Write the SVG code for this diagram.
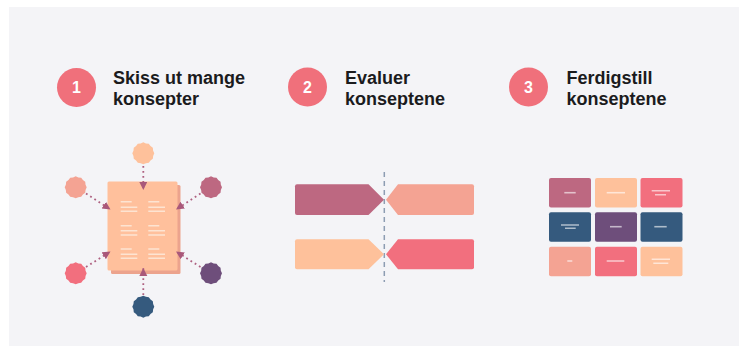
<svg xmlns="http://www.w3.org/2000/svg" xmlns:xlink="http://www.w3.org/1999/xlink" width="739" height="346" viewBox="0 0 739 346">
<style>
.h{font-family:"Liberation Sans",Arial,sans-serif;font-weight:bold;font-size:18px;fill:#1b1b1d}
.n{font-family:"Liberation Sans",Arial,sans-serif;font-weight:bold;font-size:16px;fill:#ffffff;text-anchor:middle}
.badge{fill:#f0707b}
.dot{fill:none;stroke:#ae6080;stroke-width:1.8;stroke-dasharray:1.8 3.2;marker-end:url(#arr)}
.doc{stroke:#fde4d2;stroke-width:1.6;fill:none}
.tl{stroke:#ffffff;stroke-opacity:0.6;stroke-width:1.6;fill:none}
.mauve{fill:#bd6881}.peach{fill:#fec19b}.coral{fill:#f26f7e}.salmon{fill:#f4a393}.purple{fill:#6e4e7b}.navy{fill:#355a7e}
</style>
<defs>
<polygon id="blob" points="11,0 9.85,2.64 9.53,5.5 7.21,7.21 5.5,9.53 2.64,9.85 0,11 -2.64,9.85 -5.5,9.53 -7.21,7.21 -9.53,5.5 -9.85,2.64 -11,0 -9.85,-2.64 -9.53,-5.5 -7.21,-7.21 -5.5,-9.53 -2.64,-9.85 0,-11 2.64,-9.85 5.5,-9.53 7.21,-7.21 9.53,-5.5 9.85,-2.64"/>
<marker id="arr" markerUnits="userSpaceOnUse" markerWidth="9" markerHeight="9" refX="8" refY="4" orient="auto"><path d="M0,0 L8,4 L0,8 z" fill="#a9587a"/></marker>
</defs>
<rect x="9" y="7" width="730" height="339" fill="#f4f4f7"/>

<g id="step1">
<circle class="badge" cx="76.5" cy="87.5" r="19.5"/>
<text class="n" x="76.5" y="93">1</text>
<text class="h" x="113" y="84">Skiss ut mange</text>
<text class="h" x="113" y="104.5">konsepter</text>
</g>
<g id="step2">
<circle class="badge" cx="307.5" cy="87" r="19.5"/>
<text class="n" x="307.5" y="92.5">2</text>
<text class="h" x="345" y="84">Evaluer</text>
<text class="h" x="345" y="104.5">konseptene</text>
</g>
<g id="step3">
<circle class="badge" cx="528.5" cy="87" r="19.5"/>
<text class="n" x="528.5" y="92.5">3</text>
<text class="h" x="566.5" y="84">Ferdigstill</text>
<text class="h" x="566.5" y="104.5">konseptene</text>
</g>

<g id="document">
<rect x="111" y="185" width="69.5" height="89" rx="1.5" fill="#eca38d"/>
<rect x="107.5" y="181.5" width="70" height="89" rx="1.5" fill="#ffc09c"/>
<path class="doc" d="M120.7,201.7H131.7M120.7,207.3H137.3M120.7,211.3H137.3M148.3,201.7H159.3M148.3,207.3H165M148.3,211.3H165M120.7,225.7H131.7M120.7,230.7H137.3M120.7,235H137.3M148.3,225.7H159.3M148.3,230.7H165M148.3,235H165M120.7,249H131.7M120.7,254.3H137.3M120.7,258.3H137.3M148.3,249H159.3M148.3,254.3H165M148.3,258.3H165"/>
</g>
<g id="idea-top"><use xlink:href="#blob" x="143.3" y="153.3" class="peach"/></g>
<g id="idea-upper-left"><use xlink:href="#blob" x="75.7" y="187.3" class="salmon"/></g>
<g id="idea-upper-right"><use xlink:href="#blob" x="211" y="187.3" class="mauve"/></g>
<g id="idea-lower-left"><use xlink:href="#blob" x="75.7" y="273.3" class="coral"/></g>
<g id="idea-lower-right"><use xlink:href="#blob" x="211" y="273.3" class="purple"/></g>
<g id="idea-bottom"><use xlink:href="#blob" x="143.3" y="306.7" class="navy"/></g>

<g id="connectors">
<path class="dot" d="M143.3,166 L143.3,190"/>
<path class="dot" d="M143.3,295 L143.3,268"/>
<path class="dot" d="M86,193.5 L110.5,209.5"/>
<path class="dot" d="M200.5,193.5 L176,209.5"/>
<path class="dot" d="M86,267 L110.5,251.5"/>
<path class="dot" d="M200.5,267 L176,251.5"/>
<line x1="384.3" y1="172" x2="384.3" y2="282" stroke="#8d9db2" stroke-width="1.5" stroke-dasharray="5 4"/>
</g>

<g id="compare-top-left"><path class="mauve" d="M297,184.3H368.5L384,199.7L368.5,215H297Q295,215 295,213V186.3Q295,184.3 297,184.3Z"/></g>
<g id="compare-top-right"><path class="salmon" d="M398,184.3H472Q474,184.3 474,186.3V213Q474,215 472,215H398L386,199.7Z"/></g>
<g id="compare-bottom-left"><path class="peach" d="M297,239.3H368.5L384,254.3L368.5,269.3H297Q295,269.3 295,267.3V241.3Q295,239.3 297,239.3Z"/></g>
<g id="compare-bottom-right"><path class="coral" d="M398,239.3H472Q474,239.3 474,241.3V267.3Q474,269.3 472,269.3H398L386,254.3Z"/></g>

<g id="tile-1-1"><rect class="mauve" x="549" y="178" width="42" height="29.5" rx="2"/><path class="tl" d="M564.3,192.7H575.7"/></g>
<g id="tile-1-2"><rect class="peach" x="595" y="178" width="42" height="29.5" rx="2"/><path class="tl" d="M606.7,192.7H625"/></g>
<g id="tile-1-3"><rect class="coral" x="640.5" y="178" width="42" height="29.5" rx="2"/><path class="tl" d="M651.7,190.7H670M655,194.7H666"/></g>
<g id="tile-2-1"><rect class="navy" x="549" y="212.3" width="42" height="29.5" rx="2"/><path class="tl" d="M561,225H579M565,228.3H575.7"/></g>
<g id="tile-2-2"><rect class="purple" x="595" y="212.3" width="42" height="29.5" rx="2"/><path class="tl" d="M610,226.7H621.7"/></g>
<g id="tile-2-3"><rect class="navy" x="640.5" y="212.3" width="42" height="29.5" rx="2"/><path class="tl" d="M654.3,226.7H666.7"/></g>
<g id="tile-3-1"><rect class="salmon" x="549" y="246.7" width="42" height="29.5" rx="2"/><path class="tl" d="M567.3,261H572.3"/></g>
<g id="tile-3-2"><rect class="coral" x="595" y="246.7" width="42" height="29.5" rx="2"/><path class="tl" d="M606.7,261H624.3"/></g>
<g id="tile-3-3"><rect class="peach" x="640.5" y="246.7" width="42" height="29.5" rx="2"/><path class="tl" d="M651.7,259.3H670M653.3,263.3H668.3"/></g>
</svg>
